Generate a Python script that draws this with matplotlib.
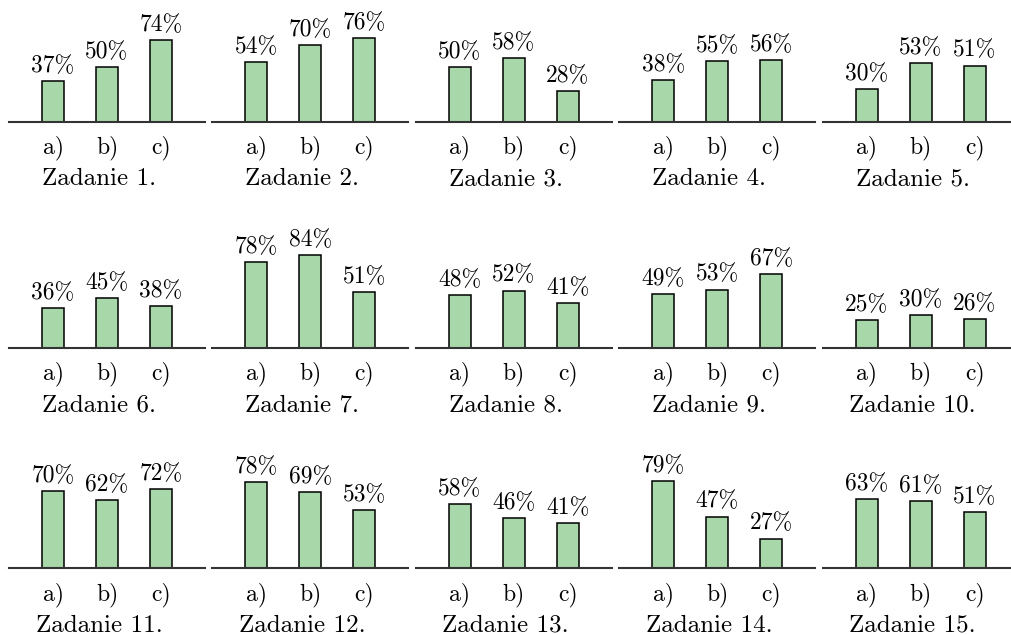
import matplotlib
matplotlib.use("Agg")
import matplotlib.pyplot as plt
from matplotlib.transforms import offset_copy, blended_transform_factory

plt.rcParams['font.family'] = ['cmr10', 'DejaVu Serif']
plt.rcParams['axes.unicode_minus'] = False

tasks = [f"Zadanie {i}." for i in range(1, 16)]
parts = ["a)", "b)", "c)"]
values = [
    [37, 50, 74], [54, 70, 76], [50, 58, 28], [38, 55, 56], [30, 53, 51],
    [36, 45, 38], [78, 84, 51], [48, 52, 41], [49, 53, 67], [25, 30, 26],
    [70, 62, 72], [78, 69, 53], [58, 46, 41], [79, 47, 27], [63, 61, 51],
]

W, H = 1012, 635
DPI = 100
fig = plt.figure(figsize=(W / DPI, H / DPI), dpi=DPI)

row_base = [121.7, 347.8, 568.3]   # pixel y of baseline (from top)
col_x0 = [9 + c * 203.4 for c in range(5)]
panel_w = 196
px_per_unit = 1.1
ax_h = 100 * px_per_unit

bar_color = "#a8d8aa"
fs = 17
fs_title = 18

for i, (task, vals) in enumerate(zip(tasks, values)):
    r, c = divmod(i, 5)
    left = col_x0[c] / W
    bottom = (H - row_base[r]) / H
    ax = fig.add_axes([left, bottom, panel_w / W, ax_h / H])
    ax.set_xlim(-0.815, 2.815)
    ax.set_ylim(0, 100)
    xs = range(len(vals))
    ax.bar(xs, vals, width=0.41, color=bar_color, edgecolor="black",
           linewidth=1.1, zorder=2)
    for sp in ["top", "left", "right"]:
        ax.spines[sp].set_visible(False)
    ax.spines["bottom"].set_color("#333333")
    ax.spines["bottom"].set_linewidth(1.5)
    ax.spines["bottom"].set_zorder(3)
    ax.set_xticks([])
    ax.set_yticks([])
    ax.patch.set_visible(False)

    up = offset_copy(ax.transData, fig=fig, x=0, y=9, units="dots")
    for x, v in zip(xs, vals):
        ax.text(x, v, f"{v}%", transform=up, ha="center", va="baseline",
                fontsize=fs, clip_on=False)

    bt = blended_transform_factory(ax.transData, ax.transAxes)
    tl = offset_copy(bt, fig=fig, x=0, y=-31.7, units="dots")
    for x, p in zip(xs, parts):
        ax.text(x, 0, p, transform=tl, ha="center", va="baseline",
                fontsize=fs, clip_on=False)
    tt = offset_copy(bt, fig=fig, x=-8, y=-63.5, units="dots")
    ax.text(1, 0, task, transform=tt, ha="center", va="baseline",
            fontsize=fs_title, clip_on=False)

fig.savefig("out.png", dpi=DPI, facecolor="white")
